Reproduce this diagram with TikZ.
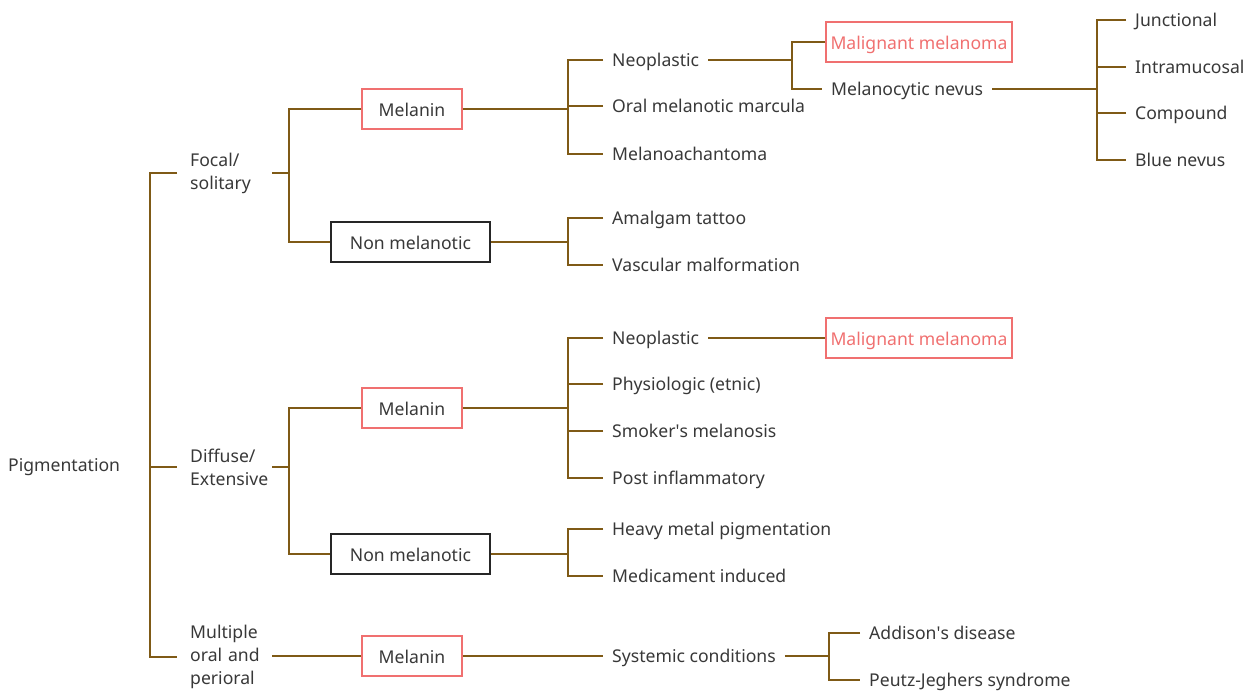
\documentclass[tikz,border=0pt]{standalone}
\usepackage{fontspec}
\setmainfont{Noto Sans}
\usepackage{tikz}
\usetikzlibrary{positioning,calc}

\definecolor{linkbrown}{HTML}{7F5A16}
\definecolor{boxred}{HTML}{F07070}
\definecolor{txtgray}{HTML}{383838}

\begin{document}
\begin{tikzpicture}[
  x=1pt, y=-1pt,
  every node/.style={font=\fontsize{17.6}{23}\selectfont, text=txtgray},
  leaf/.style={anchor=west, inner xsep=9pt, inner ysep=1pt, text height=13pt, text depth=1pt},
  group/.style={anchor=west, inner xsep=0pt, text width=82pt, align=left},
  melbox/.style={draw=boxred, line width=1.8pt, minimum width=100pt, minimum height=40pt, inner sep=0pt, text height=14pt, text depth=0pt},
  nonbox/.style={draw=black!85, line width=1.6pt, minimum width=159pt, minimum height=40pt, inner sep=0pt, text height=14pt, text depth=0pt},
  malbox/.style={draw=boxred, text=boxred, line width=1.8pt, minimum width=186pt, minimum height=40pt, inner sep=0pt, text height=14pt, text depth=0pt},
  link/.style={draw=linkbrown, line width=1.8pt}
]
\useasboundingbox (0,0) rectangle (1256,691);

% split columns
\coordinate (trunk) at (150,0);
\coordinate (sA) at (289,0);
\coordinate (sB) at (568,0);
\coordinate (sC) at (792,0);
\coordinate (sD) at (1097,0);
\coordinate (sE) at (829,0);

\node[leaf] (pig) at (-1,465) {Pigmentation};

\node[group] (focal)   at (190,173) {Focal/\\solitary};
\node[group] (diffuse) at (190,467) {Diffuse/\\Extensive};
\node[group] (multi)   at (190,657) {Multiple\\oral and\\perioral};

% focal / solitary
\node[melbox] (mel1) at (412,109) {Melanin};
\node[nonbox] (non1) at (410.5,242) {Non melanotic};
\node[leaf] (neo1) at (603,60) {Neoplastic};
\node[leaf] (oral) at (603,106) {Oral melanotic marcula};
\node[leaf] (acan) at (603,154) {Melanoachantoma};
\node[malbox] (mal1) at (919,42) {Malignant melanoma};
\node[leaf] (nevus) at (822,89) {Melanocytic nevus};
\node[leaf] (junc) at (1126,20) {Junctional};
\node[leaf] (intra) at (1126,67) {Intramucosal};
\node[leaf] (comp) at (1126,113) {Compound};
\node[leaf] (blue) at (1126,160) {Blue nevus};
\node[leaf] (amal) at (603,218) {Amalgam tattoo};
\node[leaf] (vasc) at (603,265) {Vascular malformation};

% diffuse / extensive
\node[melbox] (mel2) at (412,408) {Melanin};
\node[nonbox] (non2) at (410.5,554) {Non melanotic};
\node[leaf] (neo2) at (603,338) {Neoplastic};
\node[malbox] (mal2) at (919,338) {Malignant melanoma};
\node[leaf] (phys) at (603,384) {Physiologic (etnic)};
\node[leaf] (smok) at (603,431) {Smoker\textquotesingle s melanosis};
\node[leaf] (post) at (603,478) {Post inflammatory};
\node[leaf] (heavy) at (603,529) {Heavy metal pigmentation};
\node[leaf] (medi) at (603,576) {Medicament induced};

% multiple oral and perioral
\node[melbox] (mel3) at (412,656) {Melanin};
\node[leaf] (syst) at (603,656) {Systemic conditions};
\node[leaf] (addi) at (860,633) {Addison\textquotesingle s disease};
\node[leaf] (peutz) at (860,680) {Peutz-Jeghers syndrome};

% trunk
\draw[link] ([xshift=-13pt]focal.west) -| (trunk |- multi.west) -- ([xshift=-13pt]multi.west);
\draw[link] (trunk |- diffuse.west) -- ([xshift=-13pt]diffuse.west);

% second level
\draw[link] (focal.east) -- (focal.east -| sA);
\draw[link] (mel1.west) -| (non1.west -| sA) -- (non1.west);
\draw[link] (diffuse.east) -- (diffuse.east -| sA);
\draw[link] (mel2.west) -| (non2.west -| sA) -- (non2.west);
\draw[link] (mel3.west -| multi.east) -- (mel3.west);

% third level
\draw[link] (mel1.east) -- (mel1.east -| sB);
\draw[link] (neo1.west) -| (acan.west -| sB) -- (acan.west);
\draw[link] (oral.west) -- (oral.west -| sB);
\draw[link] (non1.east) -- (non1.east -| sB);
\draw[link] (amal.west) -| (vasc.west -| sB) -- (vasc.west);
\draw[link] (mel2.east) -- (mel2.east -| sB);
\draw[link] (neo2.west) -| (post.west -| sB) -- (post.west);
\foreach \n in {phys,smok}
  \draw[link] (\n.west) -- (\n.west -| sB);
\draw[link] (non2.east) -- (non2.east -| sB);
\draw[link] (heavy.west) -| (medi.west -| sB) -- (medi.west);
\draw[link] (mel3.east) -- (syst.west);

% fourth level
\draw[link] (neo1.east) -- (neo1.east -| sC);
\draw[link] (mal1.west) -| (nevus.west -| sC) -- (nevus.west);
\draw[link] (neo2.east) -- (mal2.west);
\draw[link] (nevus.east) -- (nevus.east -| sD);
\draw[link] (junc.west) -| (blue.west -| sD) -- (blue.west);
\foreach \n in {intra,comp}
  \draw[link] (\n.west) -- (\n.west -| sD);
\draw[link] (syst.east) -- (syst.east -| sE);
\draw[link] (addi.west) -| (peutz.west -| sE) -- (peutz.west);

\end{tikzpicture}
\end{document}
